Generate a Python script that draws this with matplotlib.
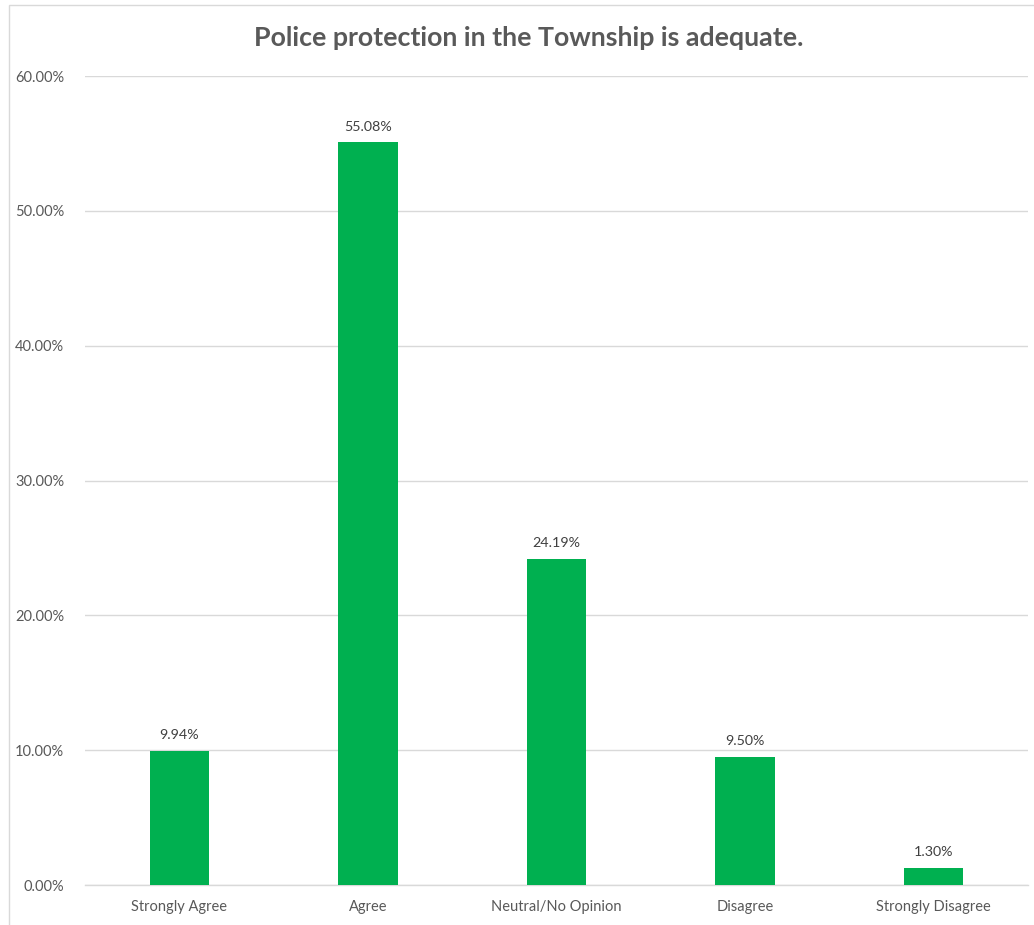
import numpy as np
import matplotlib.pyplot as plt
from matplotlib.patches import Rectangle
from matplotlib.ticker import FuncFormatter

# respuestas de la encuesta
categorias = ['Strongly Agree', 'Agree', 'Neutral/No Opinion', 'Disagree', 'Strongly Disagree']
porcentajes = [9.94, 55.08, 24.19, 9.50, 1.30]
titulo = 'Police protection in the Township is adequate.'

plt.rcParams['font.family'] = ['Lato', 'DejaVu Sans']
cinza = '#595959'
verde = '#00B050'

fig = plt.figure(figsize=(10.34, 9.25), dpi=100)
ax = fig.add_axes([0.0822, 0.0432, 0.912, 0.8746])

x = np.arange(len(categorias))
ax.bar(x, porcentajes, width=0.315, color=verde, zorder=3)

# rotulos de valor
for xi, v in zip(x, porcentajes):
    ax.annotate('%.2f%%' % v, (xi, v), xytext=(0, 7), textcoords='offset points',
                ha='center', va='bottom', fontsize=10.3, color='#404040')

ax.set_xlim(-0.5, len(categorias) - 0.5)
ax.set_ylim(0, 60)
ax.set_yticks(np.arange(0, 61, 10))
ax.yaxis.set_major_formatter(FuncFormatter(lambda v, p: '%.2f%%' % v))
ax.set_xticks(x)
ax.set_xticklabels(categorias)
ax.tick_params(axis='both', length=0, labelsize=10.5, labelcolor=cinza)
ax.tick_params(axis='y', pad=15)
ax.tick_params(axis='x', pad=11)
ax.grid(axis='y', color='#D9D9D9', linewidth=1, zorder=0)
for s in ['top', 'right', 'left']:
    ax.spines[s].set_visible(False)
ax.spines['bottom'].set_color('#D9D9D9')
ax.spines['bottom'].set_linewidth(1)

fig.text(0.511, 0.959, titulo, ha='center', va='center', fontsize=19.3,
         fontweight='bold', color=cinza)

# borda do grafico
fig.patches.append(Rectangle((9 / 1034, -0.1), 1.2, 1 - 5 / 925 + 0.1,
                             transform=fig.transFigure, fill=False,
                             edgecolor='#D9D9D9', linewidth=1))

fig.savefig('out.png', dpi=100)
